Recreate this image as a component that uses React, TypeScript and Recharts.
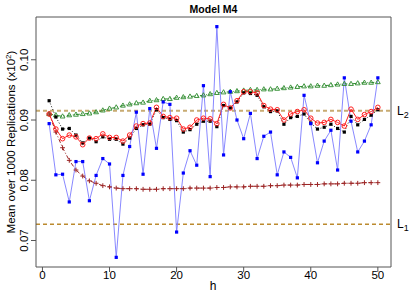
import { ComposedChart, Line, ReferenceLine, XAxis, YAxis } from "recharts";

const FONT = "'Liberation Sans', Arial, sans-serif";

// forecast horizon h = 1..50
const horizons = Array.from({ length: 50 }, (_, i) => i + 1);

const xTicks = [0, 10, 20, 30, 40, 50];
const yTicks = [0.07, 0.08, 0.09, 0.1];
const yDomain = [0.0656, 0.1071];

const L1 = 0.0727;
const L2 = 0.09155;

const blackSeries = [
	0.0932, 0.0905, 0.0885, 0.0886, 0.0875, 0.0862, 0.087, 0.0864, 0.0872, 0.0868,
	0.0868, 0.086, 0.087, 0.0886, 0.0892, 0.0893, 0.0917, 0.0904, 0.0901, 0.0899,
	0.088, 0.0884, 0.0893, 0.0898, 0.0898, 0.0889, 0.0924, 0.092, 0.093, 0.0945,
	0.0944, 0.0941, 0.0922, 0.0914, 0.0915, 0.0893, 0.0904, 0.0906, 0.091, 0.0895,
	0.0885, 0.0888, 0.0893, 0.0886, 0.088, 0.0906, 0.0892, 0.0901, 0.0908, 0.0917,
];

const redSeries = [
	0.091, 0.0885, 0.0869, 0.0875, 0.0872, 0.0859, 0.087, 0.0869, 0.0877, 0.0871,
	0.0871, 0.0865, 0.0875, 0.089, 0.0894, 0.0895, 0.0921, 0.0906, 0.0904, 0.0903,
	0.0885, 0.0888, 0.09, 0.0903, 0.0902, 0.0894, 0.0926, 0.092, 0.0932, 0.0947,
	0.0947, 0.0945, 0.0924, 0.0918, 0.0917, 0.09, 0.091, 0.0914, 0.0917, 0.0903,
	0.0895, 0.0896, 0.0901, 0.0896, 0.089, 0.0918, 0.0901, 0.0909, 0.0914, 0.0921,
];

const blueSeries = [
	0.0894, 0.0809, 0.081, 0.0764, 0.0831, 0.0831, 0.0766, 0.0808, 0.0836, 0.0827,
	0.0672, 0.0808, 0.0856, 0.0913, 0.081, 0.0919, 0.0853, 0.093, 0.0926, 0.0714,
	0.0812, 0.0849, 0.0825, 0.0957, 0.0806, 0.1055, 0.0842, 0.0947, 0.09, 0.0869,
	0.0911, 0.0836, 0.0873, 0.088, 0.0809, 0.0847, 0.0838, 0.0804, 0.0941, 0.0894,
	0.0829, 0.0865, 0.0883, 0.0817, 0.097, 0.0898, 0.0847, 0.0865, 0.0892, 0.097,
];

const greenSeries = [
	0.091, 0.0908, 0.0906, 0.0908, 0.0909, 0.091, 0.0911, 0.0913, 0.0916, 0.0919,
	0.0921, 0.0924, 0.0926, 0.0928, 0.0929, 0.0932, 0.0933, 0.0935, 0.0935, 0.0937,
	0.0938, 0.0939, 0.094, 0.0941, 0.0943, 0.0945, 0.0946, 0.0947, 0.0948, 0.0949,
	0.095, 0.095, 0.0951, 0.0951, 0.0952, 0.0953, 0.0954, 0.0955, 0.0956, 0.0956,
	0.0957, 0.0957, 0.0958, 0.0959, 0.096, 0.096, 0.0961, 0.0962, 0.0962, 0.0963,
];

const darkRedSeries = [
	0.091, 0.088, 0.0854, 0.0833, 0.0817, 0.0807, 0.0799, 0.0795, 0.0791, 0.0789,
	0.0787, 0.0786, 0.0786, 0.0786, 0.0785, 0.0785, 0.0785, 0.0786, 0.0786, 0.0786,
	0.0786, 0.0787, 0.0787, 0.0787, 0.0787, 0.0788, 0.0788, 0.0789, 0.0789, 0.0789,
	0.079, 0.079, 0.079, 0.0791, 0.0791, 0.0792, 0.0792, 0.0792, 0.0793, 0.0793,
	0.0793, 0.0794, 0.0794, 0.0794, 0.0795, 0.0795, 0.0795, 0.0796, 0.0796, 0.0796,
];

const data = horizons.map((h, i) => ({
	h,
	black: blackSeries[i],
	red: redSeries[i],
	blue: blueSeries[i],
	green: greenSeries[i],
	darkRed: darkRedSeries[i],
}));

const square = (color: string) => (p: any) => (
	<rect
		key={`sq-${color}-${p.index}`}
		x={p.cx - 1.6}
		y={p.cy - 1.6}
		width={3.2}
		height={3.2}
		fill={color}
	/>
);

const openCircle = (p: any) => (
	<circle
		key={`c-${p.index}`}
		cx={p.cx}
		cy={p.cy}
		r={2.3}
		fill="none"
		stroke="#ff2020"
		strokeWidth={1}
	/>
);

const openTriangle = (p: any) => (
	<path
		key={`t-${p.index}`}
		d={`M${p.cx},${p.cy - 2.6}L${p.cx + 2.4},${p.cy + 1.6}L${p.cx - 2.4},${p.cy + 1.6}Z`}
		fill="none"
		stroke="#2e8b2e"
		strokeWidth={0.9}
	/>
);

const plus = (p: any) => (
	<path
		key={`p-${p.index}`}
		d={`M${p.cx - 2.4},${p.cy}H${p.cx + 2.4}M${p.cx},${p.cy - 2.4}V${p.cy + 2.4}`}
		stroke="#9b2323"
		strokeWidth={1}
	/>
);

const XTick = (p: any) => (
	<text x={p.x} y={279} textAnchor="middle" fontSize={11.5} fontFamily={FONT} fill="#000">
		{p.payload.value}
	</text>
);

const YTick = (p: any) => (
	<text
		x={28.5}
		y={p.y}
		transform={`rotate(-90, 28.5, ${p.y})`}
		textAnchor="middle"
		fontSize={11.5}
		fontFamily={FONT}
		fill="#000"
	>
		{p.payload.value.toFixed(2)}
	</text>
);

const RightTick = (p: any) => (
	<text x={397} y={p.y + 4} fontSize={12} fontFamily={FONT} fill="#000">
		L
		<tspan fontSize={9} dy={3}>
			{p.payload.value === L1 ? "1" : "2"}
		</tspan>
	</text>
);

export default function App() {
	return (
		<div style={{ position: "absolute", left: 0, top: 0, width: 415, height: 297, background: "#fff" }}>
			<ComposedChart
				width={415}
				height={297}
				data={data}
				margin={{ top: 17, right: 0, bottom: 0, left: 0 }}
			>
				<XAxis
					xAxisId="b"
					dataKey="h"
					type="number"
					domain={[-0.96, 51.96]}
					allowDataOverflow
					ticks={xTicks}
					interval={0}
					height={30}
					tickSize={5}
					stroke="#555"
					tick={XTick}
					label={{
						content: () => (
							<g>
								<text x={213} y={290} textAnchor="middle" fontSize={12} fontFamily={FONT}>
									h
								</text>
								<text
									x={213.5}
									y={12.5}
									textAnchor="middle"
									fontSize={10.5}
									fontWeight="bold"
									fontFamily={FONT}
								>
									Model M4
								</text>
							</g>
						),
					}}
				/>
				<YAxis
					yAxisId="l"
					type="number"
					domain={yDomain}
					allowDataOverflow
					ticks={yTicks}
					interval={0}
					width={36}
					tickSize={5}
					stroke="#555"
					tick={YTick}
					label={{
						content: () => (
							<text
								x={15}
								y={142}
								transform="rotate(-90, 15, 142)"
								textAnchor="middle"
								fontSize={11.5}
								fontFamily={FONT}
							>
								Mean over 1000 Replications (x10
								<tspan fontSize={8} dy={-4}>
									2
								</tspan>
								<tspan dy={4}>)</tspan>
							</text>
						),
					}}
				/>
				<YAxis
					yAxisId="r"
					orientation="right"
					type="number"
					domain={yDomain}
					allowDataOverflow
					ticks={[L1, L2]}
					interval={0}
					width={24}
					tickLine={false}
					stroke="#555"
					tick={RightTick}
				/>
				{/* top edge of the box */}
				<ReferenceLine xAxisId="b" yAxisId="l" y={yDomain[1]} stroke="#555" strokeWidth={1} />
				<ReferenceLine
					xAxisId="b"
					yAxisId="l"
					y={L2}
					stroke="#c8ab72"
					strokeWidth={2}
					strokeDasharray="4 3"
				/>
				<ReferenceLine
					xAxisId="b"
					yAxisId="l"
					y={L1}
					stroke="#bb8a2e"
					strokeWidth={1.6}
					strokeDasharray="4 3"
				/>
				<Line
					xAxisId="b"
					yAxisId="l"
					dataKey="green"
					type="linear"
					stroke="#2e8b2e"
					strokeWidth={1}
					strokeDasharray="4 2 1 2"
					dot={openTriangle}
					activeDot={false}
					isAnimationActive={false}
				/>
				<Line
					xAxisId="b"
					yAxisId="l"
					dataKey="darkRed"
					type="linear"
					stroke="#9b2323"
					strokeWidth={1}
					strokeDasharray="4 2 1 2"
					dot={plus}
					activeDot={false}
					isAnimationActive={false}
				/>
				<Line
					xAxisId="b"
					yAxisId="l"
					dataKey="black"
					type="linear"
					stroke="#222"
					strokeWidth={1}
					strokeDasharray="1 2"
					dot={square("#000")}
					activeDot={false}
					isAnimationActive={false}
				/>
				<Line
					xAxisId="b"
					yAxisId="l"
					dataKey="red"
					type="linear"
					stroke="#ff2020"
					strokeWidth={1}
					dot={openCircle}
					activeDot={false}
					isAnimationActive={false}
				/>
				<Line
					xAxisId="b"
					yAxisId="l"
					dataKey="blue"
					type="linear"
					stroke="#7a7aff"
					strokeWidth={0.9}
					dot={square("#0000ff")}
					activeDot={false}
					isAnimationActive={false}
				/>
			</ComposedChart>
		</div>
	);
}
